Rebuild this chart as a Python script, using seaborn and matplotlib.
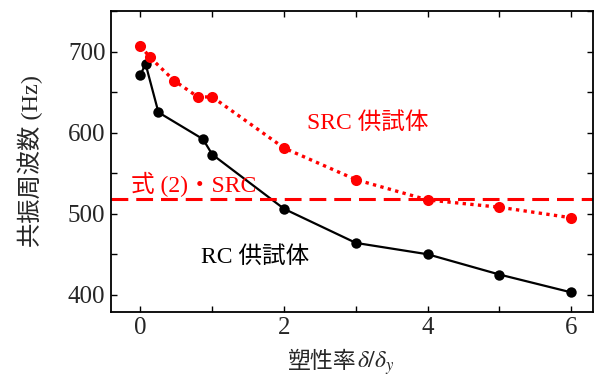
import matplotlib
matplotlib.use("Agg")
import matplotlib.pyplot as plt
import seaborn as sns
import pandas as pd
from matplotlib.ticker import MultipleLocator, FixedLocator

# Data
rc_x = [0.0, 0.07, 0.25, 0.87, 1.0, 2.0, 3.0, 4.0, 5.0, 6.0]
rc_y = [671, 685, 625, 592, 573, 506, 464, 450, 425, 403]
src_x = [0.0, 0.13, 0.47, 0.80, 1.0, 2.0, 3.0, 4.0, 5.0, 6.0]
src_y = [707, 693, 664, 644, 644, 581, 542, 517, 508, 495]
eq2_value = 518
x_ticks = [0, 2, 4, 6]
y_ticks = [400, 500, 600, 700]

sns.set_theme(style="ticks")
plt.rcParams['font.family'] = ['Liberation Serif', 'Noto Sans CJK JP']
plt.rcParams['mathtext.fontset'] = 'stix'

fig = plt.figure(figsize=(5.97, 3.78), dpi=100)
ax = fig.add_axes([0.186, 0.175, 0.807, 0.796])

rc_df = pd.DataFrame({"x": rc_x, "y": rc_y})
src_df = pd.DataFrame({"x": src_x, "y": src_y})

sns.lineplot(data=rc_df, x="x", y="y", sort=False, estimator=None, ax=ax,
             color="black", lw=1.6, marker="o", markersize=7.5,
             markeredgewidth=0, markerfacecolor="black")
sns.lineplot(data=src_df, x="x", y="y", sort=False, estimator=None, ax=ax,
             color="#ff0000", lw=2.4, linestyle=(0, (1, 1.3)), marker="o",
             markersize=8, markeredgewidth=0, markerfacecolor="#ff0000")
ax.axhline(eq2_value, color="#ff0000", lw=2.2, linestyle=(0, (5.5, 2.6)))

ax.set_xlim(-0.41, 6.30)
ax.set_ylim(379, 750)
ax.xaxis.set_major_locator(FixedLocator(x_ticks))
ax.xaxis.set_minor_locator(MultipleLocator(1))
ax.yaxis.set_major_locator(FixedLocator(y_ticks))
ax.yaxis.set_minor_locator(MultipleLocator(50))
ax.tick_params(which="both", direction="in", top=True, right=True,
               length=4.5, width=1.0, color="black")
ax.tick_params(which="major", labelsize=18, pad=4)
for s in ax.spines.values():
    s.set_linewidth(1.3)
    s.set_color("black")

ax.set_xlabel("")
ax.set_ylabel("共振周波数 (Hz)", fontsize=17.5, labelpad=18)

# x label: CJK part and math part drawn side by side
xl_x = 357 / 597
xl_y = 1 - 368 / 378
fig.text(xl_x, xl_y, "塑性率", fontsize=16.5, ha="right", va="baseline")
fig.text(xl_x, xl_y, r"$\delta/\delta_y$", fontsize=17, ha="left", va="baseline")

ax.text(2.32, 612, "SRC 供試体", color="#ff0000", fontsize=17, va="center", ha="left")
ax.text(-0.13, 536, "式 (2)・SRC", color="#ff0000", fontsize=17, va="center", ha="left")
ax.text(0.84, 447, "RC 供試体", color="black", fontsize=17, va="center", ha="left")

fig.savefig("out.png", dpi=100)
